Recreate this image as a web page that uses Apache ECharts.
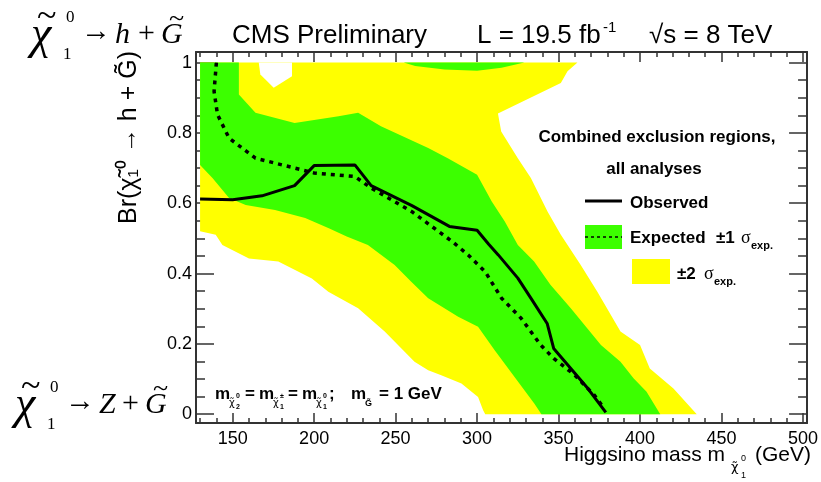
<!DOCTYPE html>
<html>
<head>
<meta charset="utf-8">
<script src="https://cdn.jsdelivr.net/npm/echarts@6.0.0/dist/echarts.min.js"></script>
<style>
html, body { margin: 0; padding: 0; background: #fff; }
#main { width: 821px; height: 482px; }
</style>
</head>
<body>
<div id="main"></div>
<script>
// axis ticks
const massTicks = [150, 200, 250, 300, 350, 400, 450, 500];
const massMinorTicks = [130, 140, 160, 170, 180, 190, 210, 220, 230, 240, 260, 270, 280, 290, 310, 320, 330, 340,
  360, 370, 380, 390, 410, 420, 430, 440, 460, 470, 480, 490];
const brTicks = [0, 0.2, 0.4, 0.6, 0.8, 1];
const brMinorTicks = [0.05, 0.1, 0.15, 0.25, 0.3, 0.35, 0.45, 0.5, 0.55, 0.65, 0.7, 0.75, 0.85, 0.9, 0.95];

// limit curves, [higgsino mass (GeV), Br]
const observed = [[130, 0.612], [150, 0.610], [168, 0.621], [188, 0.650], [200, 0.707], [225, 0.709], [235, 0.650],
  [260, 0.593], [283, 0.534], [300, 0.523], [307, 0.484], [313, 0.453], [325, 0.387], [333, 0.330], [343, 0.258],
  [347, 0.187], [357.5, 0.130], [368, 0.073], [379, 0.005]];
const expected = [[140, 1.0], [138.6, 0.918], [140.7, 0.852], [147.8, 0.785], [164, 0.728], [188, 0.700], [200, 0.686],
  [225, 0.676], [235, 0.643], [260, 0.576], [285, 0.490], [294.5, 0.453], [305, 0.405], [315, 0.330], [327, 0.273],
  [339, 0.197], [347, 0.159], [360, 0.111], [372, 0.054], [378, 0.016]];

// band edges
const plus1 = [[153.8, 1], [153.8, 0.909], [164, 0.857], [188, 0.828], [215, 0.847], [227, 0.857], [241, 0.819],
  [270, 0.757], [282, 0.728], [300, 0.681], [309, 0.605], [317, 0.548], [325, 0.481], [335, 0.434], [345, 0.368],
  [357.5, 0.301], [367.7, 0.244], [376, 0.197], [388, 0.149], [396, 0.102], [404, 0.064], [412.4, 0]];
const minus1 = [[130, 0.709], [137.6, 0.672], [147.8, 0.615], [158, 0.595], [176, 0.581], [194.5, 0.558], [209, 0.529],
  [220, 0.505], [233, 0.481], [249.4, 0.424], [259.6, 0.377], [270, 0.330], [288.4, 0.277], [300.6, 0.249],
  [310.8, 0.182], [323, 0.106], [335.2, 0.030], [339.5, 0]];
const plus2 = [[361.6, 1], [355.5, 0.975], [351.4, 0.942], [312.8, 0.855], [314.8, 0.804], [325, 0.728], [333, 0.672],
  [343.3, 0.576], [351.4, 0.510], [363.6, 0.424], [373.8, 0.348], [388, 0.235], [400, 0.197], [406, 0.130],
  [420.5, 0.073], [434.8, 0]];
const minus2 = [[130, 0.52], [139.6, 0.51], [143.7, 0.481], [160, 0.443], [178, 0.434], [198.6, 0.386], [208.7, 0.348],
  [227, 0.301], [243.3, 0.235], [261.6, 0.149], [270, 0.125], [278, 0.111], [290.4, 0.087], [300.6, 0.049],
  [303.7, 0.011], [305, 0]];
const topSliver = [[255, 1], [262, 0.99], [280, 0.98], [300, 0.977], [315, 0.985], [329, 1]];
const whiteNotch = [[166, 1], [167, 0.966], [175.2, 0.928], [186.4, 0.961], [186.4, 1]];

const yellowBand = [[130, 1]].concat(plus2, minus2.slice().reverse());
const greenBand = [[130, 1]].concat(plus1, minus1.slice().reverse());

const GREEN = "#3cff00";
const YELLOW = "#ffff00";
const AXIS = "#333";
const SANS = "Liberation Sans, Arial, sans-serif";
const SERIF = "Liberation Serif, Times New Roman, serif";

function polygon(color) {
  return function (params, api) {
    if (params.dataIndex !== 0) return null;
    let pts = [];
    for (let i = 0; i < params.dataInsideLength; i++) {
      pts.push(api.coord([api.value(0, i), api.value(1, i)]));
    }
    return { type: "polygon", shape: { points: pts }, style: { fill: color } };
  };
}
function area(data, color) {
  return { type: "custom", data: data, renderItem: polygon(color), silent: true, clip: true, animation: false };
}

function xAx(pos, ticks, len, main) {
  return {
    type: "value", min: 127.5, max: 502.5, position: pos,
    axisLine: { show: main, onZero: false, lineStyle: { color: AXIS, width: 2 } },
    axisTick: { inside: true, length: len, customValues: ticks, lineStyle: { color: AXIS, width: 1.5 } },
    axisLabel: pos === "bottom" && main
      ? { customValues: massTicks, fontSize: 18, fontFamily: SANS, color: "#000", margin: 7 }
      : { show: false },
    splitLine: { show: false }
  };
}
function yAx(pos, ticks, len, main) {
  return {
    type: "value", min: -0.025, max: 1.03, position: pos,
    axisLine: { show: main, onZero: false, lineStyle: { color: AXIS, width: 2 } },
    axisTick: { inside: true, length: len, customValues: ticks, lineStyle: { color: AXIS, width: 1.5 } },
    axisLabel: pos === "left" && main
      ? { customValues: brTicks, fontSize: 18, fontFamily: SANS, color: "#000", margin: 4 }
      : { show: false },
    splitLine: { show: false }
  };
}

function txt(str, x, y, size, o) {
  o = o || {};
  let style = {
    text: str, fontSize: size, fontFamily: o.family || SANS,
    fontWeight: o.bold ? "bold" : "normal", fontStyle: o.italic ? "italic" : "normal",
    fill: "#000", align: o.align || "left", textAlign: o.align || "left",
    verticalAlign: o.va || "middle", textVerticalAlign: o.va || "middle"
  };
  if (o.lh) style.lineHeight = o.lh;
  return { type: "text", x: x, y: y, rotation: o.rot || 0, z: 100, silent: true, style: style };
}
// small chi-tilde with stacked sub/superscript for the mass relation
function chiSub(x, y, sub, sup) {
  return [
    txt("χ̃", x, y + 9, 10, { family: "DejaVu Sans" }),
    txt(sub, x + 7, y + 13, 7, { bold: true }),
    txt(sup, x + 7, y + 2, 7, { bold: true })
  ];
}
function decay(x0, y0, boson) {
  // chi tilde_1^0 -> boson + G tilde, serif formula on the left
  return [
    txt("χ", x0, y0 + 1, 46, { family: SERIF, italic: true }),
    txt("~", x0 + 6, y0 - 17, 36, { family: SERIF }),
    txt("0", x0 + 35, y0 - 17, 17, { family: SERIF }),
    txt("1", x0 + 32, y0 + 20, 17, { family: SERIF }),
    txt("→", x0 + 50, y0 - 3, 30, { family: SERIF }),
    txt(boson, x0 + 84, y0, 30, { family: SERIF, italic: true }),
    txt("+", x0 + 107, y0 - 1, 30, { family: SERIF }),
    txt("G", x0 + 130, y0, 30, { family: SERIF, italic: true }),
    txt("~", x0 + 138, y0 - 15, 28, { family: SERIF })
  ];
}

let graphics = [
  // bottom of the slide title cut off above the plot
  txt("p", 286, -34, 52, { lh: 110 }),
  txt("gg", 610, -34, 52, { lh: 110 }),
  txt("CMS Preliminary", 232, 36, 26),
  txt("L = 19.5 fb", 477, 36, 26),
  txt("-1", 603, 28, 15),
  txt("√s = 8 TeV", 649, 36, 26),
  txt("Br(χ̃₁⁰ → h + G̃)", 129, 51, 25, { rot: Math.PI / 2, align: "right" }),
  txt("Higgsino mass m", 564, 455, 21),
  txt("χ̃", 731, 468, 13, { family: "DejaVu Sans" }),
  txt("0", 741, 459, 9),
  txt("1", 741, 476, 9),
  txt("(GeV)", 755, 455, 21),
  // legend
  txt("Combined exclusion regions,", 657, 137, 17, { bold: true, align: "center" }),
  txt("all analyses", 654, 169, 17, { bold: true, align: "center" }),
  { type: "line", z: 100, shape: { x1: 585, y1: 201, x2: 622, y2: 201 }, style: { stroke: "#000", lineWidth: 3 } },
  txt("Observed", 630, 203, 17, { bold: true }),
  { type: "rect", z: 100, shape: { x: 585, y: 225, width: 37, height: 24 }, style: { fill: GREEN } },
  { type: "line", z: 101, shape: { x1: 585, y1: 237, x2: 622, y2: 237 }, style: { stroke: "#000", lineWidth: 1.5, lineDash: [3, 3] } },
  txt("Expected", 630, 238, 17, { bold: true }),
  txt("±1", 716, 238, 17, { bold: true }),
  txt("σ", 741, 238, 18, { family: SERIF }),
  txt("exp.", 751, 246, 11, { bold: true }),
  { type: "rect", z: 100, shape: { x: 632, y: 259, width: 38, height: 25 }, style: { fill: YELLOW } },
  txt("±2", 677, 274, 17, { bold: true }),
  txt("σ", 704, 274, 18, { family: SERIF }),
  txt("exp.", 714, 282, 11, { bold: true }),
  // mass relation
  txt("m", 215, 394, 17, { bold: true }),
  txt("=", 245, 394, 17, { bold: true }),
  txt("m", 259, 394, 17, { bold: true }),
  txt("=", 288, 394, 17, { bold: true }),
  txt("m", 302, 394, 17, { bold: true }),
  txt(";", 329, 394, 17, { bold: true }),
  txt("m", 351, 394, 17, { bold: true }),
  txt("G̃", 365, 404, 9, { bold: true }),
  txt("= 1 GeV", 379, 394, 17, { bold: true })
];
graphics = graphics.concat(
  chiSub(229, 394, "2", "0"), chiSub(273, 394, "1", "±"), chiSub(316, 394, "1", "0"),
  decay(31, 35, "h"), decay(15, 405, "Z")
);

let chart = echarts.init(document.getElementById("main"), null, { renderer: "canvas" });
chart.setOption({
  animation: false,
  backgroundColor: "#fff",
  grid: { left: 196, right: 9, top: 52, bottom: 59, containLabel: false },
  xAxis: [xAx("bottom", massTicks, 10, true), xAx("bottom", massMinorTicks, 5, false),
    xAx("top", massTicks, 10, true), xAx("top", massMinorTicks, 5, false)],
  yAxis: [yAx("left", brTicks, 18, true), yAx("left", brMinorTicks, 9, false),
    yAx("right", brTicks, 18, true), yAx("right", brMinorTicks, 9, false)],
  series: [
    area(yellowBand, YELLOW),
    area(greenBand, GREEN),
    area(topSliver, GREEN),
    area(whiteNotch, "#fff"),
    {
      name: "Expected", type: "line", data: expected, showSymbol: false, silent: true,
      lineStyle: { color: "#000", width: 3.5, type: [4, 5] }
    },
    {
      name: "Observed", type: "line", data: observed, showSymbol: false, silent: true,
      lineStyle: { color: "#000", width: 3 }
    }
  ],
  graphic: graphics
});
window.addEventListener("resize", chart.resize);
</script>
</body>
</html>
